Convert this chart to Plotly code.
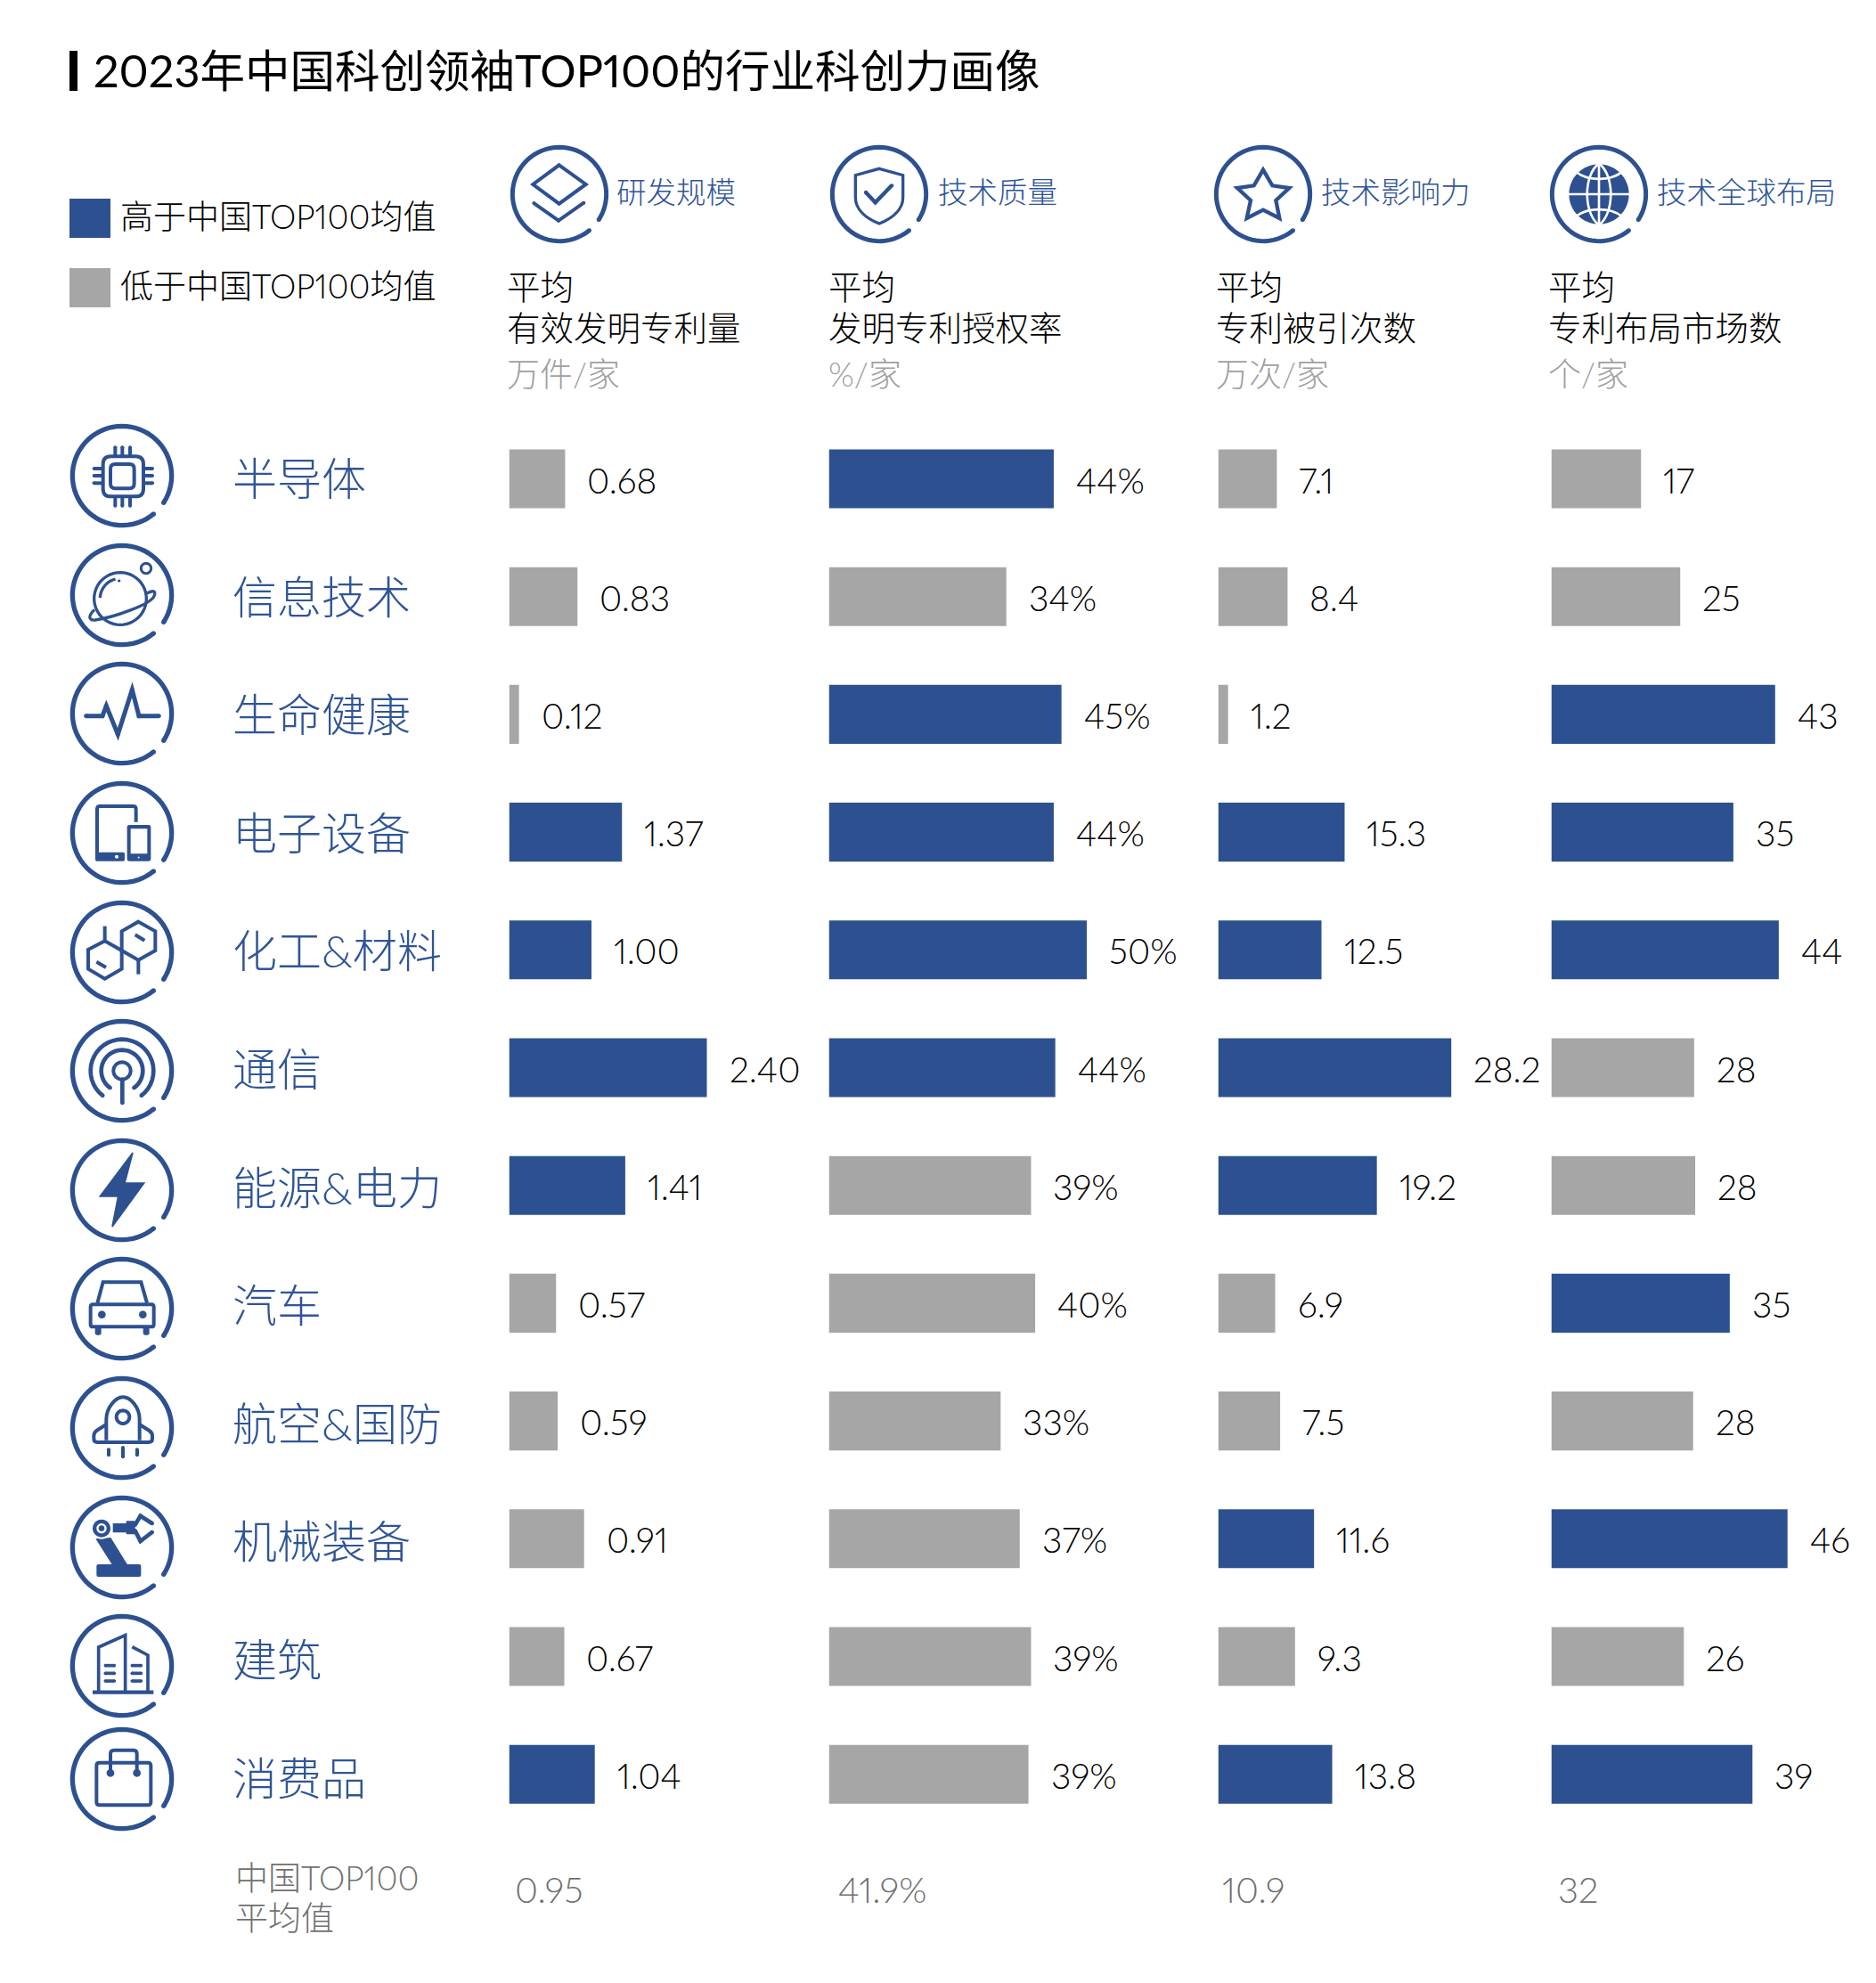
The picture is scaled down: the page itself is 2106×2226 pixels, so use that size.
import math
import re
import plotly.graph_objects as go

# ---------- data ----------
CATEGORIES = ["半导体", "信息技术", "生命健康", "电子设备", "化工&材料", "通信",
              "能源&电力", "汽车", "航空&国防", "机械装备", "建筑", "消费品"]
PATENTS = [0.68, 0.83, 0.12, 1.37, 1.00, 2.40, 1.41, 0.57, 0.59, 0.91, 0.67, 1.04]
GRANT_RATE = [43.6, 34.4, 45.1, 43.6, 50.0, 43.9, 39.2, 40.0, 33.3, 37.0, 39.2, 38.7]
CITATIONS = [7.1, 8.4, 1.2, 15.3, 12.5, 28.2, 19.2, 6.9, 7.5, 11.6, 9.3, 13.8]
MARKETS = [17.4, 25.0, 43.4, 35.3, 44.1, 27.7, 27.9, 34.6, 27.5, 45.8, 25.7, 39.0]
AVERAGES = [0.95, 41.9, 10.9, 32]
AVERAGE_LABELS = ["0.95", "41.9%", "10.9", "32"]
VALUE_FORMATS = ["{:.2f}", "{:.0f}%", "{:.1f}", "{:.0f}"]
HEAD_NAMES = ["研发规模", "技术质量", "技术影响力", "技术全球布局"]
HEAD_LINE2 = ["有效发明专利量", "发明专利授权率", "专利被引次数", "专利布局市场数"]
HEAD_UNITS = ["万件/家", "%/家", "万次/家", "个/家"]
TITLE = "2023年中国科创领袖TOP100的行业科创力画像"
LEGEND_HIGH = "高于中国TOP100均值"
LEGEND_LOW = "低于中国TOP100均值"
FOOT_LINES = ["中国TOP100", "平均值"]

# ---------- style / layout ----------
W, H = 2106, 2226
BLUE, GRAY = "#2D5190", "#A6A6A6"
TXT_BLUE = "#2F5597"
FONT = "Lato, Noto Sans CJK SC, sans-serif"
PANEL_X = [571.5, 930.5, 1367.5, 1741.5]
PANEL_W = [350, 430, 370, 364]
PX_PER_UNIT = [92.5, 5.79, 9.28, 5.79]
ROW0, ROW_STEP = 537.5, 132.2
HEAD_ICON_X = [628, 987, 1418, 1795]
HEAD_NAME_X = [691, 1052, 1482, 1859]
HEAD_TEXT_X = [568, 929, 1364, 1737]
FOOT_VAL_X = [577, 940, 1371, 1748]
ICON_Y = [534, 668, 801, 935, 1069, 1202, 1336, 1469, 1603, 1737, 1870, 1997]
LABEL_Y = [537 + 132.6 * i for i in range(12)]

fig = go.Figure()
shapes, annotations = [], []


def px(x):
    return x / W


def py(y):
    return 1 - y / H


def text(x, y, s, size, color="#000000", weight=300, family=FONT):
    annotations.append(dict(xref="paper", yref="paper", x=px(x), y=py(y), text=s, align="left",
                            showarrow=False, xanchor="left", yanchor="middle", borderpad=0,
                            font=dict(family=family, size=size, color=color, weight=weight)))


# ---------- icon helpers (icon paths drawn in 3x zoom units around a reference centre) ----------
def transform(d, rx, ry, cx, cy, s):
    out = []
    tokens = re.findall(r"[MLCQZ]|-?\d+\.?\d*", d)
    i = 0
    while i < len(tokens):
        t = tokens[i]
        if t in "MLCQZ":
            out.append(t)
            i += 1
        else:
            xx = cx + (float(t) - rx) * s / 3
            yy = cy + (float(tokens[i + 1]) - ry) * s / 3
            out.append(f"{px(xx):.5f},{py(yy):.5f}")
            i += 2
    return " ".join(out)


def circle_d(x, y, r, n=48, a0=0.0, a1=360.0):
    pts = []
    for k in range(n + 1):
        a = math.radians(a0 + (a1 - a0) * k / n)
        pts.append((x + r * math.cos(a), y + r * math.sin(a)))
    closed = abs(a1 - a0) >= 360
    d = "M " + " L ".join(f"{p[0]:.2f} {p[1]:.2f}" for p in pts)
    return d + (" Z" if closed else "")


def rrect_d(x0, y0, x1, y1, r):
    return (f"M {x0+r} {y0} L {x1-r} {y0} Q {x1} {y0} {x1} {y0+r} L {x1} {y1-r} Q {x1} {y1} {x1-r} {y1} "
            f"L {x0+r} {y1} Q {x0} {y1} {x0} {y1-r} L {x0} {y0+r} Q {x0} {y0} {x0+r} {y0} Z")


def poly_d(pts, close=False):
    d = "M " + " L ".join(f"{a} {b}" for a, b in pts)
    return d + (" Z" if close else "")


class Icon:
    def __init__(self, rx, ry, cx, cy, s):
        self.a = (rx, ry, cx, cy, s)

    def stroke(self, d, w, round_ends=True, color=BLUE):
        rx, ry, cx, cy, s = self.a
        shapes.append(dict(type="path", xref="paper", yref="paper",
                           path=transform(d, rx, ry, cx, cy, s),
                           line=dict(color=color, width=w / 3 * s), layer="above"))
        if round_ends:
            nums = re.findall(r"([MLCQ])([^MLCQZ]*)", d)
            for cmd, args in nums:
                v = [float(q) for q in args.split()]
                if len(v) >= 2 and len(v) <= 6:
                    self.fill(circle_d(v[-2], v[-1], w / 2, 12), color)

    def fill(self, d, color=BLUE):
        rx, ry, cx, cy, s = self.a
        shapes.append(dict(type="path", xref="paper", yref="paper",
                           path=transform(d, rx, ry, cx, cy, s),
                           fillcolor=color, line=dict(width=0), layer="above"))

    def ring(self, r=167, w=16):
        rx, ry = self.a[0], self.a[1]
        self.stroke(circle_d(rx, ry, r, 64, 50.5, 360 + 33), w, round_ends=False)
        for ang in (50.5, 33):
            a = math.radians(ang)
            self.fill(circle_d(rx + r * math.cos(a), ry + r * math.sin(a), w / 2, 12))


def ic_chip(c):
    c.stroke(rrect_d(347, 127, 483, 262, 26), 12, False)
    c.stroke(rrect_d(372, 153, 452, 235, 16), 12, False)
    for x in (388, 412, 438):
        c.stroke(f"M {x} 97 L {x} 125", 12)
        c.stroke(f"M {x} 265 L {x} 293", 12)
    for y in (168, 192, 217):
        c.stroke(f"M 317 {y} L 345 {y}", 12)
        c.stroke(f"M 485 {y} L 513 {y}", 12)


def ic_planet(c):
    c.stroke(circle_d(405, 606, 88), 10, False)
    c.stroke(circle_d(492, 504, 17), 9, False)
    c.stroke(circle_d(405, 606, 68, 16, 182, 256), 10, False)
    c.fill(circle_d(401, 546, 5, 10))
    c.stroke("M 495 588 C 515 578 525 578 520 595 C 512 625 380 670 320 678 C 298 680 296 665 318 643", 10, False)


def ic_pulse(c):
    c.stroke(poly_d([(290, 206), (345, 206), (358, 172), (397, 268), (445, 118), (468, 206), (535, 206)]), 15)


def ic_devices(c):
    c.stroke("M 458 563 L 458 520 Q 458 510 448 510 L 337 510 Q 327 510 327 520 L 327 690", 12, False)
    c.fill(rrect_d(321, 665, 420, 695, 5))
    c.fill(circle_d(393, 680, 6, 12), "#FFFFFF")
    c.fill(rrect_d(428, 573, 508, 695, 8))
    c.fill(rrect_d(440, 586, 496, 670, 0), "#FFFFFF")
    c.fill(circle_d(467, 683, 3, 10), "#FFFFFF")


def ic_chem(c):
    c.stroke(poly_d([(353, 168), (410, 200), (410, 262), (353, 295), (297, 262), (297, 197)], True), 12, False)
    c.stroke(poly_d([(466, 103), (523, 135), (523, 200), (466, 232), (410, 200), (410, 135)], True), 12, False)
    c.stroke("M 353 118 L 353 168", 12, False)
    c.stroke("M 466 232 L 466 280", 12, False)
    c.stroke("M 325 238 L 357 257", 12, False)
    c.stroke("M 455 147 L 487 166", 12, False)


def ic_signal(c):
    c.stroke(circle_d(411, 607, 29), 12, False)
    c.stroke("M 412 636 L 412 715", 14)
    c.stroke(circle_d(411, 607, 70, 32, 125, 415), 14, False)
    c.stroke(circle_d(411, 607, 106, 32, 128, 412), 14, False)
    for ang, r in ((125, 70), (55, 70), (128, 106), (52, 106)):
        a = math.radians(ang)
        c.fill(circle_d(411 + r * math.cos(a), 607 + r * math.sin(a), 7, 10))


def ic_bolt(c):
    d = poly_d([(447, 78), (337, 225), (398, 225), (378, 327), (485, 180), (420, 180)], True)
    c.fill(d)
    c.stroke(d, 5, False)


def ic_car(c):
    c.stroke(rrect_d(305, 590, 518, 665, 8), 12, False)
    c.stroke(poly_d([(328, 585), (347, 515), (475, 515), (495, 585)]), 12, False)
    c.fill(circle_d(343, 624, 13, 16))
    c.fill(circle_d(481, 624, 13, 16))
    c.fill(rrect_d(320, 665, 341, 693, 8))
    c.fill(rrect_d(482, 665, 503, 693, 8))


def ic_rocket(c):
    c.stroke("M 358 245 L 358 175 C 358 135 390 100 414 100 C 440 100 470 135 470 175 L 470 245", 12, False)
    c.stroke(circle_d(414, 167, 22), 12, False)
    c.stroke("M 358 192 L 325 213 Q 316 220 316 230 L 316 240 Q 316 252 328 252 L 500 252 "
             "Q 513 252 513 240 L 513 230 Q 513 220 503 213 L 470 192", 12, False)
    c.stroke("M 366 277 L 366 295", 12)
    c.stroke("M 414 270 L 414 301", 12)
    c.stroke("M 462 277 L 462 295", 12)


def ic_robot(c):
    c.fill(poly_d([(322, 577), (373, 573), (430, 665), (378, 665)], True))
    c.fill(rrect_d(325, 663, 475, 705, 6))
    c.fill(circle_d(342, 542, 36, 24), "#FFFFFF")
    c.fill(circle_d(342, 542, 30, 24))
    c.fill(circle_d(342, 542, 17, 24), "#FFFFFF")
    c.fill(circle_d(342, 542, 10, 16))
    c.fill(rrect_d(380, 525, 430, 556, 0))
    c.fill(rrect_d(425, 517, 455, 562, 3))
    c.stroke(poly_d([(455, 530), (473, 500), (512, 525)]), 14)
    c.stroke(poly_d([(455, 550), (473, 585), (512, 555)]), 14)


def ic_building(c):
    c.stroke("M 312 300 L 517 300", 13, False)
    c.stroke(poly_d([(332, 300), (332, 148), (422, 108), (422, 300)]), 11, False)
    c.stroke(poly_d([(445, 147), (498, 175), (498, 300)]), 11, False)
    for y in (210, 236, 262):
        c.stroke(f"M 355 {y} L 385 {y}", 11)
        c.stroke(f"M 445 {y} L 475 {y}", 11)


def ic_bag(c):
    c.stroke(rrect_d(325, 535, 508, 678, 10), 12, False)
    c.stroke("M 372 570 L 372 505 Q 372 493 384 493 L 450 493 Q 461 493 461 505 L 461 570", 12, False)
    c.fill(circle_d(372, 570, 13, 16))
    c.fill(circle_d(461, 570, 13, 16))


def ic_layers(c):
    c.stroke(poly_d([(205, 105), (295, 170), (205, 235), (117, 170)], True), 12, False)
    c.stroke(poly_d([(120, 233), (203, 292), (288, 232)]), 12)


def ic_shield(c):
    c.stroke("M 1285 118 L 1365 140 L 1365 215 C 1365 255 1330 285 1285 303 "
             "C 1240 285 1205 255 1205 215 L 1205 140 Z", 10, False)
    c.stroke(poly_d([(1240, 198), (1272, 232), (1327, 175)]), 13)


def ic_star(c):
    c.stroke(poly_d([(207, 122), (238, 175), (295, 183), (250, 225), (262, 285), (207, 257),
                     (152, 285), (165, 225), (120, 183), (176, 175)], True), 13, False)


def ic_globe(c):
    c.fill(circle_d(1338, 204, 101, 64))
    white = "#FFFFFF"
    c.stroke("M 1230 204 L 1446 204", 8, False, white)
    c.stroke("M 1338 98 L 1338 310", 8, False, white)
    c.stroke("M 1338 100 C 1285 140 1285 268 1338 308", 8, False, white)
    c.stroke("M 1338 100 C 1391 140 1391 268 1338 308", 8, False, white)
    c.stroke("M 1262 130 C 1300 160 1376 160 1414 130", 8, False, white)
    c.stroke("M 1262 278 C 1300 248 1376 248 1414 278", 8, False, white)


ROW_ICONS = [(ic_chip, 411, 192), (ic_planet, 411, 594), (ic_pulse, 411, 198), (ic_devices, 411, 600),
             (ic_chem, 411, 206), (ic_signal, 411, 607), (ic_bolt, 411, 204), (ic_car, 411, 604),
             (ic_rocket, 411, 204), (ic_robot, 411, 606), (ic_building, 411, 211), (ic_bag, 411, 590)]
HEAD_ICONS = [(ic_layers, 206, 203), (ic_shield, 1285, 204), (ic_star, 207, 204), (ic_globe, 1338, 204)]

for (fn, rx, ry), cy in zip(ROW_ICONS, ICON_Y):
    ic = Icon(rx, ry, 137, cy, 1.0)
    ic.ring()
    fn(ic)

for (fn, rx, ry), cx in zip(HEAD_ICONS, HEAD_ICON_X):
    ic = Icon(rx, ry, cx, 218, 1.0)
    ic.ring(r=158, w=15)
    fn(ic)

# ---------- bars ----------
SERIES = [PATENTS, GRANT_RATE, CITATIONS, MARKETS]
layout_axes = {}
y_top = ROW0 - ROW_STEP / 2
y_bot = ROW0 + ROW_STEP * 11.5
for k, vals in enumerate(SERIES):
    suffix = "" if k == 0 else str(k + 1)
    fig.add_trace(go.Bar(
        x=vals, y=CATEGORIES, orientation="h", width=0.5,
        marker=dict(color=[BLUE if v > AVERAGES[k] else GRAY for v in vals], line=dict(width=0)),
        xaxis="x" + suffix, yaxis="y" + suffix, showlegend=False,
        name=HEAD_NAMES[k], hoverinfo="x+y"))
    layout_axes["xaxis" + suffix] = dict(
        domain=[px(PANEL_X[k]), px(PANEL_X[k] + PANEL_W[k])],
        range=[0, PANEL_W[k] / PX_PER_UNIT[k]], visible=False, anchor="y" + suffix, fixedrange=True)
    layout_axes["yaxis" + suffix] = dict(
        domain=[py(y_bot), py(y_top)], range=[11.5, -0.5], type="category",
        categoryorder="array", categoryarray=CATEGORIES, visible=False,
        anchor="x" + suffix, fixedrange=True)
    for cat, v in zip(CATEGORIES, vals):
        annotations.append(dict(
            xref="x" + suffix, yref="y" + suffix, x=v, y=cat, text=VALUE_FORMATS[k].format(v), align="left",
            showarrow=False, xanchor="left", yanchor="middle", xshift=24, yshift=-1, borderpad=0,
            font=dict(family=FONT, size=39, color="#000000", weight=300)))

# ---------- texts ----------
shapes.append(dict(type="rect", xref="paper", yref="paper", x0=px(78), x1=px(87), y0=py(102), y1=py(57),
                   fillcolor="#000000", line=dict(width=0)))
text(104, 78, TITLE, 50.5, "#000000", 400)

shapes.append(dict(type="rect", xref="paper", yref="paper", x0=px(78), x1=px(124), y0=py(267), y1=py(223),
                   fillcolor=BLUE, line=dict(width=0)))
shapes.append(dict(type="rect", xref="paper", yref="paper", x0=px(78), x1=px(124), y0=py(345), y1=py(301),
                   fillcolor=GRAY, line=dict(width=0)))
text(134, 242, LEGEND_HIGH, 37)
text(134, 320, LEGEND_LOW, 37)

for k in range(4):
    text(HEAD_NAME_X[k], 215, HEAD_NAMES[k], 33.5, TXT_BLUE)
    text(HEAD_TEXT_X[k], 321, "平均", 37.5)
    text(HEAD_TEXT_X[k], 367, HEAD_LINE2[k], 37.5)
    text(HEAD_TEXT_X[k], 420, HEAD_UNITS[k], 37, "#A0A0A0")
    text(FOOT_VAL_X[k], 2121, AVERAGE_LABELS[k], 40, "#707070")

for cat, y in zip(CATEGORIES, LABEL_Y):
    text(260, y, cat, 50, TXT_BLUE)

text(263, 2107, FOOT_LINES[0], 37, "#707070")
text(263, 2152, FOOT_LINES[1], 37, "#707070")

fig.update_layout(width=W, height=H, margin=dict(l=0, r=0, t=0, b=0), autosize=False,
                  plot_bgcolor="#FFFFFF", paper_bgcolor="#FFFFFF",
                  font=dict(family=FONT), barmode="overlay",
                  shapes=shapes, annotations=annotations, **layout_axes)

fig.write_html("out.html", include_plotlyjs=True, config={"displayModeBar": False},
               post_script="document.body.style.margin='0';document.body.style.overflow='hidden';"
                           "var s=document.createElement('style');"
                           "s.textContent='text{font-variant-numeric:proportional-nums;"
                           "font-feature-settings:\"pnum\" 1;}';document.head.appendChild(s);")
